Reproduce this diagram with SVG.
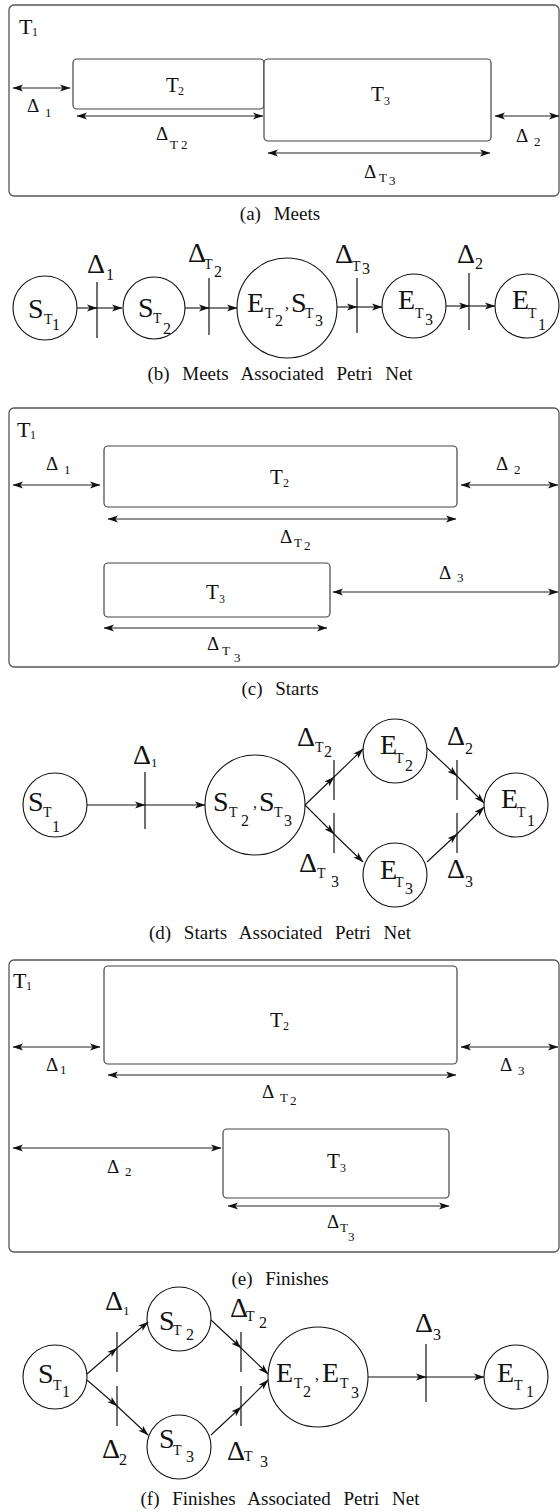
<svg xmlns="http://www.w3.org/2000/svg" width="560" height="1512" viewBox="0 0 560 1512" font-family="'Liberation Serif', 'Times New Roman', serif">
<defs>
<marker id="ah" markerUnits="userSpaceOnUse" markerWidth="11" markerHeight="8" refX="10" refY="4" orient="auto-start-reverse" viewBox="0 0 11 8">
<path d="M0,0.6 L10.5,4 L0,7.4 L2.6,4 z" fill="#111"/>
</marker>
</defs>
<style>
text, tspan{font-family:'Liberation Serif','Times New Roman',serif;fill:#111}
.frame{fill:#fff;stroke:#555;stroke-width:1.3}
.box{fill:#fff;stroke:#444;stroke-width:1.2}
.dim{stroke:#222;stroke-width:1.2;fill:none;marker-start:url(#ah);marker-end:url(#ah)}
.arc{stroke:#111;stroke-width:1.1;fill:none;marker-end:url(#ah)}
.bar{stroke:#222;stroke-width:1.3}
.place{fill:#fff;stroke:#111;stroke-width:1.1}
.cap{font-size:19px;word-spacing:8px;text-anchor:middle}
.T1{font-size:22px}
.Tb{font-size:21px}
.Ts{font-size:12px}
.dl{font-size:19px}
.ds{font-size:13px}
.L{font-size:28px}
.s{font-size:14px}
.d{font-size:16px}
.D{font-size:28px}
.ds2{font-size:13px}
</style>

<!-- (a) Meets -->
<g id="a-T1"><rect class="frame" x="9" y="5" width="550" height="191" rx="5"/>
<text><tspan class="T1" x="19" y="34">T</tspan><tspan class="Ts" x="32" y="36">1</tspan></text></g>
<g id="a-T2"><rect class="box" x="73" y="59" width="191" height="50" rx="4"/>
<text><tspan class="Tb" x="166" y="92">T</tspan><tspan class="Ts" x="178" y="95">2</tspan></text></g>
<g id="a-T3"><rect class="box" x="264" y="59" width="227" height="82" rx="4"/>
<text><tspan class="Tb" x="371" y="101">T</tspan><tspan class="Ts" x="384" y="105">3</tspan></text></g>
<g id="a-dims">
<line class="dim" x1="13" y1="88" x2="70" y2="88"/>
<line class="dim" x1="77" y1="116" x2="263" y2="116"/>
<line class="dim" x1="495" y1="116" x2="559" y2="116"/>
<line class="dim" x1="268" y1="153" x2="490" y2="153"/>
<text><tspan class="dl" x="27" y="112">Δ</tspan><tspan class="ds" x="45" y="117">1</tspan></text>
<text><tspan class="dl" x="156" y="140">Δ</tspan><tspan class="ds" x="170" y="149">T</tspan><tspan class="ds" x="181" y="149">2</tspan></text>
<text><tspan class="dl" x="516" y="142">Δ</tspan><tspan class="ds" x="534" y="146">2</tspan></text>
<text><tspan class="dl" x="364" y="178">Δ</tspan><tspan class="ds" x="379" y="182">T</tspan><tspan class="ds" x="389" y="185">3</tspan></text>
</g>
<text class="cap" x="280" y="220">(a) Meets</text>

<!-- (b) Meets Petri Net -->
<g id="b-ST1"><circle class="place" cx="45" cy="308" r="32"/>
<text><tspan class="L" x="28" y="318">S</tspan><tspan class="s" x="44" y="324">T</tspan><tspan class="d" x="52" y="330">1</tspan></text></g>
<g id="b-ST2"><circle class="place" cx="154" cy="308" r="31"/>
<text><tspan class="L" x="138" y="317">S</tspan><tspan class="s" x="153" y="323">T</tspan><tspan class="d" x="163" y="334">2</tspan></text></g>
<g id="b-ET2ST3"><circle class="place" cx="287" cy="308" r="50"/>
<text><tspan class="L" x="247" y="312">E</tspan><tspan class="s" x="265" y="318">T</tspan><tspan class="d" x="275" y="326">2</tspan><tspan class="d" x="285" y="309">,</tspan><tspan class="L" x="291" y="312">S</tspan><tspan class="s" x="305" y="318">T</tspan><tspan class="d" x="315" y="326">3</tspan></text></g>
<g id="b-ET3"><circle class="place" cx="414" cy="306" r="32"/>
<text><tspan class="L" x="398" y="309">E</tspan><tspan class="s" x="415" y="318">T</tspan><tspan class="d" x="425" y="325">3</tspan></text></g>
<g id="b-ET1"><circle class="place" cx="527" cy="306" r="32"/>
<text><tspan class="L" x="512" y="309">E</tspan><tspan class="s" x="528" y="318">T</tspan><tspan class="d" x="538" y="330">1</tspan></text></g>
<g id="b-transitions">
<line class="bar" x1="97" y1="282" x2="97" y2="338"/>
<line class="bar" x1="209" y1="278" x2="209" y2="335"/>
<line class="bar" x1="357" y1="278" x2="357" y2="333"/>
<line class="bar" x1="469" y1="273" x2="469" y2="330"/>
<text><tspan class="D" x="87" y="273">Δ</tspan><tspan class="d" x="106" y="280">1</tspan></text>
<text><tspan class="D" x="188" y="262">Δ</tspan><tspan class="s" x="204" y="269">T</tspan><tspan class="d" x="214" y="277">2</tspan></text>
<text><tspan class="D" x="335" y="263">Δ</tspan><tspan class="s" x="352" y="271">T</tspan><tspan class="d" x="362" y="274">3</tspan></text>
<text><tspan class="D" x="457" y="263">Δ</tspan><tspan class="d" x="475" y="269">2</tspan></text>
</g>
<g id="b-arcs">
<line class="arc" x1="77" y1="308" x2="97" y2="308"/>
<line class="arc" x1="97" y1="308" x2="122" y2="308"/>
<line class="arc" x1="185" y1="308" x2="209" y2="308"/>
<line class="arc" x1="209" y1="308" x2="237" y2="308"/>
<line class="arc" x1="337" y1="307" x2="357" y2="307"/>
<line class="arc" x1="357" y1="307" x2="382" y2="307"/>
<line class="arc" x1="446" y1="306" x2="469" y2="306"/>
<line class="arc" x1="469" y1="306" x2="495" y2="306"/>
</g>
<text class="cap" x="280" y="380">(b) Meets Associated Petri Net</text>

<!-- (c) Starts -->
<g id="c-T1"><rect class="frame" x="9" y="408" width="550" height="259" rx="5"/>
<text><tspan class="T1" x="17" y="437">T</tspan><tspan class="Ts" x="30" y="439">1</tspan></text></g>
<g id="c-T2"><rect class="box" x="104" y="446" width="353" height="61" rx="4"/>
<text><tspan class="Tb" x="270" y="484">T</tspan><tspan class="Ts" x="283" y="487">2</tspan></text></g>
<g id="c-T3"><rect class="box" x="104" y="563" width="226" height="54" rx="4"/>
<text><tspan class="Tb" x="206" y="599">T</tspan><tspan class="Ts" x="219" y="603">3</tspan></text></g>
<g id="c-dims">
<line class="dim" x1="13" y1="485" x2="100" y2="485"/>
<line class="dim" x1="461" y1="485" x2="558" y2="485"/>
<line class="dim" x1="108" y1="519" x2="456" y2="519"/>
<line class="dim" x1="333" y1="592" x2="558" y2="592"/>
<line class="dim" x1="104" y1="628" x2="327" y2="628"/>
<text><tspan class="dl" x="46" y="470">Δ</tspan><tspan class="ds" x="64" y="474">1</tspan></text>
<text><tspan class="dl" x="496" y="470">Δ</tspan><tspan class="ds" x="514" y="474">2</tspan></text>
<text><tspan class="dl" x="280" y="543">Δ</tspan><tspan class="ds" x="294" y="547">T</tspan><tspan class="ds" x="304" y="550">2</tspan></text>
<text><tspan class="dl" x="439" y="579">Δ</tspan><tspan class="ds" x="457" y="582">3</tspan></text>
<text><tspan class="dl" x="207" y="650">Δ</tspan><tspan class="ds" x="222" y="655">T</tspan><tspan class="ds" x="234" y="662">3</tspan></text>
</g>
<text class="cap" x="280" y="695">(c) Starts</text>

<!-- (d) Starts Petri Net -->
<g id="d-ST1"><circle class="place" cx="55" cy="805" r="32"/>
<text><tspan class="L" x="28" y="811">S</tspan><tspan class="s" x="43" y="817">T</tspan><tspan class="d" x="52" y="832">1</tspan></text></g>
<g id="d-ST2ST3"><circle class="place" cx="255" cy="805" r="50"/>
<text><tspan class="L" x="213" y="811">S</tspan><tspan class="s" x="229" y="817">T</tspan><tspan class="d" x="241" y="826">2</tspan><tspan class="d" x="253" y="808">,</tspan><tspan class="L" x="259" y="811">S</tspan><tspan class="s" x="274" y="817">T</tspan><tspan class="d" x="284" y="826">3</tspan></text></g>
<g id="d-ET2"><circle class="place" cx="395" cy="751" r="32"/>
<text><tspan class="L" x="380" y="754">E</tspan><tspan class="s" x="395" y="763">T</tspan><tspan class="d" x="405" y="771">2</tspan></text></g>
<g id="d-ET3"><circle class="place" cx="395" cy="875" r="32"/>
<text><tspan class="L" x="380" y="879">E</tspan><tspan class="s" x="395" y="887">T</tspan><tspan class="d" x="405" y="894">3</tspan></text></g>
<g id="d-ET1"><circle class="place" cx="516" cy="805" r="32"/>
<text><tspan class="L" x="501" y="808">E</tspan><tspan class="s" x="517" y="817">T</tspan><tspan class="d" x="527" y="826">1</tspan></text></g>
<g id="d-transitions">
<line class="bar" x1="145" y1="772" x2="145" y2="829"/>
<line class="bar" x1="334" y1="760" x2="334" y2="800"/>
<line class="bar" x1="334" y1="813" x2="334" y2="853"/>
<line class="bar" x1="457" y1="760" x2="457" y2="800"/>
<line class="bar" x1="457" y1="813" x2="457" y2="853"/>
<text><tspan class="D" x="133" y="764">Δ</tspan><tspan class="ds2" x="151" y="767">1</tspan></text>
<text><tspan class="D" x="297" y="746">Δ</tspan><tspan class="s" x="315" y="752">T</tspan><tspan class="d" x="324" y="757">2</tspan></text>
<text><tspan class="D" x="447" y="745">Δ</tspan><tspan class="d" x="465" y="754">2</tspan></text>
<text><tspan class="D" x="299" y="872">Δ</tspan><tspan class="s" x="317" y="878">T</tspan><tspan class="d" x="331" y="887">3</tspan></text>
<text><tspan class="D" x="447" y="878">Δ</tspan><tspan class="d" x="465" y="887">3</tspan></text>
</g>
<g id="d-arcs">
<line class="arc" x1="87" y1="805" x2="145" y2="805"/>
<line class="arc" x1="145" y1="805" x2="205" y2="805"/>
<line class="arc" x1="305" y1="805" x2="334" y2="777"/>
<line class="arc" x1="334" y1="777" x2="363" y2="749"/>
<line class="arc" x1="305" y1="805" x2="334" y2="834"/>
<line class="arc" x1="334" y1="834" x2="363" y2="862"/>
<line class="arc" x1="427" y1="748" x2="457" y2="776"/>
<line class="arc" x1="457" y1="776" x2="484" y2="803"/>
<line class="arc" x1="427" y1="862" x2="457" y2="834"/>
<line class="arc" x1="457" y1="834" x2="484" y2="807"/>
</g>
<text class="cap" x="280" y="939">(d) Starts Associated Petri Net</text>

<!-- (e) Finishes -->
<g id="e-T1"><rect class="frame" x="9" y="960" width="550" height="292" rx="5"/>
<text><tspan class="T1" x="13" y="988">T</tspan><tspan class="Ts" x="26" y="990">1</tspan></text></g>
<g id="e-T2"><rect class="box" x="104" y="966" width="353" height="98" rx="4"/>
<text><tspan class="Tb" x="270" y="1027">T</tspan><tspan class="Ts" x="283" y="1030">2</tspan></text></g>
<g id="e-T3"><rect class="box" x="223" y="1129" width="226" height="69" rx="4"/>
<text><tspan class="Tb" x="327" y="1168">T</tspan><tspan class="Ts" x="340" y="1172">3</tspan></text></g>
<g id="e-dims">
<line class="dim" x1="13" y1="1047" x2="100" y2="1047"/>
<line class="dim" x1="461" y1="1047" x2="558" y2="1047"/>
<line class="dim" x1="108" y1="1075" x2="456" y2="1075"/>
<line class="dim" x1="13" y1="1148" x2="221" y2="1148"/>
<line class="dim" x1="228" y1="1206" x2="449" y2="1206"/>
<text><tspan class="dl" x="46" y="1071">Δ</tspan><tspan class="ds" x="60" y="1074">1</tspan></text>
<text><tspan class="dl" x="500" y="1071">Δ</tspan><tspan class="ds" x="518" y="1075">3</tspan></text>
<text><tspan class="dl" x="262" y="1098">Δ</tspan><tspan class="ds" x="280" y="1102">T</tspan><tspan class="ds" x="290" y="1105">2</tspan></text>
<text><tspan class="dl" x="107" y="1173">Δ</tspan><tspan class="ds" x="125" y="1176">2</tspan></text>
<text><tspan class="dl" x="327" y="1228">Δ</tspan><tspan class="ds" x="340" y="1232">T</tspan><tspan class="ds" x="348" y="1241">3</tspan></text>
</g>
<text class="cap" x="280" y="1285">(e) Finishes</text>

<!-- (f) Finishes Petri Net -->
<g id="f-ST1"><circle class="place" cx="55" cy="1377" r="32"/>
<text><tspan class="L" x="38" y="1383">S</tspan><tspan class="s" x="53" y="1390">T</tspan><tspan class="d" x="62" y="1397">1</tspan></text></g>
<g id="f-ST2"><circle class="place" cx="179" cy="1319" r="32"/>
<text><tspan class="L" x="159" y="1330">S</tspan><tspan class="s" x="173" y="1335">T</tspan><tspan class="d" x="186" y="1340">2</tspan></text></g>
<g id="f-ST3"><circle class="place" cx="179" cy="1447" r="32"/>
<text><tspan class="L" x="159" y="1448">S</tspan><tspan class="s" x="173" y="1455">T</tspan><tspan class="d" x="186" y="1462">3</tspan></text></g>
<g id="f-ET2ET3"><circle class="place" cx="318" cy="1377" r="50"/>
<text><tspan class="L" x="276" y="1382">E</tspan><tspan class="s" x="294" y="1388">T</tspan><tspan class="d" x="303" y="1397">2</tspan><tspan class="d" x="315" y="1380">,</tspan><tspan class="L" x="322" y="1382">E</tspan><tspan class="s" x="340" y="1388">T</tspan><tspan class="d" x="351" y="1398">3</tspan></text></g>
<g id="f-ET1"><circle class="place" cx="516" cy="1377" r="32"/>
<text><tspan class="L" x="497" y="1382">E</tspan><tspan class="s" x="514" y="1390">T</tspan><tspan class="d" x="526" y="1397">1</tspan></text></g>
<g id="f-transitions">
<line class="bar" x1="117" y1="1332" x2="117" y2="1372"/>
<line class="bar" x1="117" y1="1386" x2="117" y2="1426"/>
<line class="bar" x1="241" y1="1332" x2="241" y2="1372"/>
<line class="bar" x1="241" y1="1386" x2="241" y2="1426"/>
<line class="bar" x1="426" y1="1344" x2="426" y2="1402"/>
<text><tspan class="D" x="105" y="1310">Δ</tspan><tspan class="ds2" x="123" y="1315">1</tspan></text>
<text><tspan class="D" x="230" y="1317">Δ</tspan><tspan class="s" x="246" y="1321">T</tspan><tspan class="d" x="259" y="1328">2</tspan></text>
<text><tspan class="D" x="102" y="1458">Δ</tspan><tspan class="d" x="119" y="1465">2</tspan></text>
<text><tspan class="D" x="227" y="1460">Δ</tspan><tspan class="s" x="244" y="1461">T</tspan><tspan class="d" x="260" y="1467">3</tspan></text>
<text><tspan class="D" x="415" y="1332">Δ</tspan><tspan class="d" x="433" y="1340">3</tspan></text>
</g>
<g id="f-arcs">
<line class="arc" x1="87" y1="1374" x2="117" y2="1348"/>
<line class="arc" x1="117" y1="1348" x2="148" y2="1322"/>
<line class="arc" x1="87" y1="1380" x2="117" y2="1406"/>
<line class="arc" x1="117" y1="1406" x2="148" y2="1435"/>
<line class="arc" x1="211" y1="1320" x2="241" y2="1348"/>
<line class="arc" x1="241" y1="1348" x2="268" y2="1374"/>
<line class="arc" x1="211" y1="1435" x2="241" y2="1407"/>
<line class="arc" x1="241" y1="1407" x2="268" y2="1380"/>
<line class="arc" x1="368" y1="1377" x2="426" y2="1377"/>
<line class="arc" x1="426" y1="1377" x2="484" y2="1377"/>
</g>
<text class="cap" x="280" y="1505">(f) Finishes Associated Petri Net</text>
</svg>
